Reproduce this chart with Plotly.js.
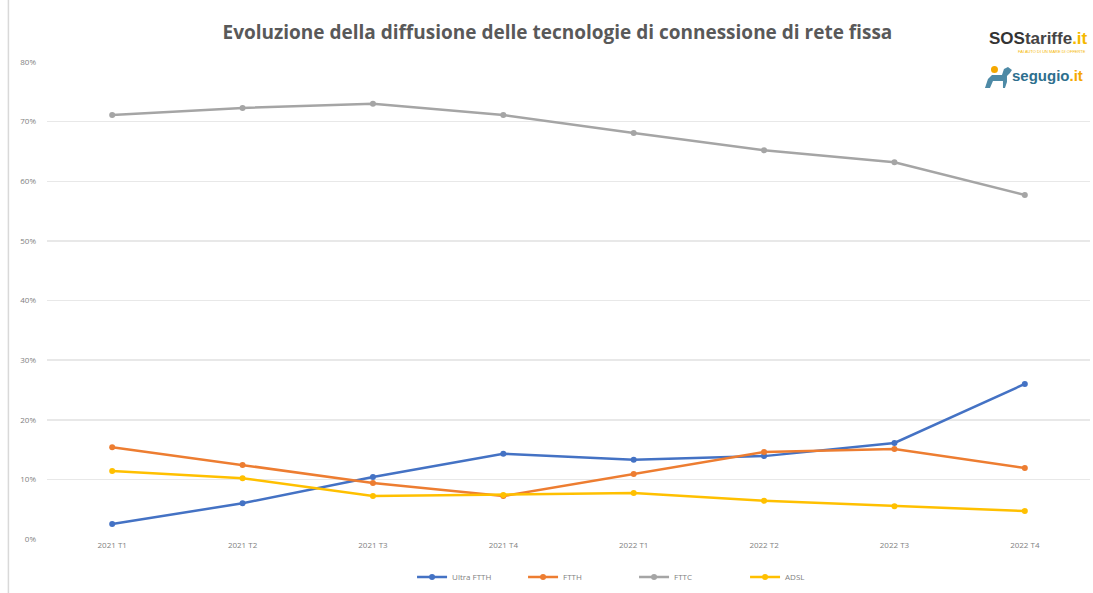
<!DOCTYPE html>
<html>
<head>
<meta charset="utf-8">
<script src="https://cdn.plot.ly/plotly-3.0.1.min.js"></script>
<style>html,body{margin:0;padding:0;background:#fff;}#chart{width:1093px;height:593px;}</style>
</head>
<body>
<div id="chart"></div>
<script>
const categories = ["2021 T1","2021 T2","2021 T3","2021 T4","2022 T1","2022 T2","2022 T3","2022 T4"];
const ultraFTTH = [0.025, 0.060, 0.104, 0.143, 0.133, 0.139, 0.161, 0.260];
const ftth      = [0.154, 0.124, 0.094, 0.072, 0.109, 0.146, 0.151, 0.119];
const fttc      = [0.711, 0.723, 0.730, 0.711, 0.681, 0.652, 0.632, 0.577];
const adsl      = [0.114, 0.102, 0.072, 0.074, 0.077, 0.064, 0.055, 0.047];
const seriesNames = ["Ultra FTTH","FTTH","FTTC","ADSL"];
const seriesColors = ["#4472C4","#ED7D31","#A5A5A5","#FFC000"];
const seriesValues = [ultraFTTH, ftth, fttc, adsl];
const yTicks = [0,0.1,0.2,0.3,0.4,0.5,0.6,0.7,0.8];
const yTickText = ["0%","10%","20%","30%","40%","50%","60%","70%","80%"];

const traces = seriesValues.map((vals, i) => ({
  type: "scatter",
  mode: "lines+markers",
  name: seriesNames[i],
  x: categories,
  y: vals,
  line: {color: seriesColors[i], width: 2.5},
  marker: {color: seriesColors[i], size: 6, symbol: "circle"}
}));

const layout = {
  width: 1093, height: 593,
  paper_bgcolor: "#fff", plot_bgcolor: "#fff",
  margin: {l: 47, r: 3, t: 62, b: 54, autoexpand: false},
  font: {family: "Open Sans, Liberation Sans, sans-serif", color: "#7f7f7f", size: 9},
  title: {
    text: "<b>Evoluzione della diffusione delle tecnologie di connessione di rete fissa</b>",
    x: 0.51, xanchor: "center", y: 0.945, yanchor: "middle",
    font: {family: "Open Sans, Liberation Sans, sans-serif", size: 19, color: "#595959"}
  },
  xaxis: {
    type: "category", range: [-0.5, 7.5], automargin: false,
    showgrid: false, zeroline: false, showline: false, ticks: "",
    tickfont: {size: 8, color: "#7f7f7f"}, fixedrange: true
  },
  yaxis: {
    range: [0, 0.8], tickvals: yTicks, ticktext: yTickText, automargin: false,
    showgrid: true, gridcolor: "#e8e8e8", gridwidth: 1.5,
    zeroline: false, showline: false, ticks: "",
    tickfont: {size: 8, color: "#7f7f7f"}, ticklabelstandoff: 10, fixedrange: true
  },
  showlegend: true,
  legend: {
    orientation: "h", x: 0.35, xanchor: "left", yref: "container", y: 0.027, yanchor: "middle",
    font: {size: 8, color: "#7f7f7f"}, itemwidth: 30, tracegroupgap: 0,
    entrywidth: 66, entrywidthmode: "pixels"
  },
  shapes: [
    {type: "line", xref: "paper", yref: "paper", x0: -0.037, x1: -0.037, y0: -0.12, y1: 1.13, line: {color: "#d9d9d9", width: 1.5}},
    {type: "path", xref: "paper", yref: "paper", xsizemode: "pixel", ysizemode: "pixel",
     xanchor: 0.8993, yanchor: 0.9455,
     path: "M0,0 L3,9 L7,13 L17,13 L19,19 L23,21 L27,18 L25,15 L22,12 L22,6 L20,0 L18,0 L18,7 L8,7 L5,0 Z",
     fillcolor: "#4E8AA6", line: {width: 0}},
    {type: "circle", xref: "paper", yref: "paper", xsizemode: "pixel", ysizemode: "pixel",
     xanchor: 0.8993, yanchor: 0.9455, x0: 6, x1: 13, y0: 15, y1: 22,
     fillcolor: "#F5A800", line: {width: 0}}
  ],
  annotations: [
    {xref: "paper", yref: "paper", x: 1.0, y: 1.05, xanchor: "right", yanchor: "middle", showarrow: false,
     text: "<b><span style='color:#333'>SOS</span><span style='color:#444'>tariffe</span><span style='color:#F5B800'>.it</span></b>",
     font: {family: "Liberation Sans, sans-serif", size: 17}},
    {xref: "paper", yref: "paper", x: 0.998, y: 1.023, xanchor: "right", yanchor: "middle", showarrow: false,
     text: "FAI AUTO DI UN MARE DI OFFERTE", font: {family: "Liberation Sans, sans-serif", size: 4, color: "#F5B800"}},
    {xref: "paper", yref: "paper", x: 0.995, y: 0.971, xanchor: "right", yanchor: "middle", showarrow: false,
     text: "<b><span style='color:#2E6F8E'>segugio</span><span style='color:#F5A800'>.it</span></b>",
     font: {family: "Liberation Sans, sans-serif", size: 15}}
  ]
};

Plotly.newPlot("chart", traces, layout, {displayModeBar: false, staticPlot: true});
</script>
</body>
</html>
